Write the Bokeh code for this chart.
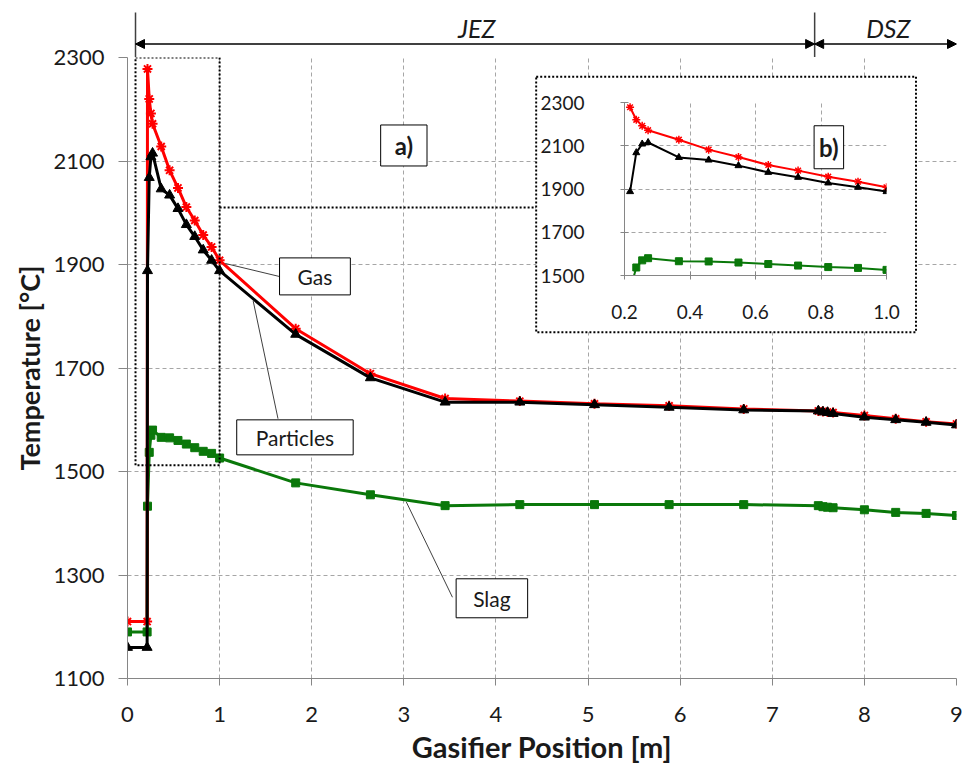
import numpy as np
from bokeh.plotting import figure
from bokeh.models import (Range1d, FixedTicker, PrintfTickFormatter, Label, Arrow,
                          NormalHead, BoxAnnotation)
from bokeh.embed import file_html
from bokeh.resources import INLINE

# ---------------- data ----------------
position = [0.0, 0.213, 0.217, 0.236, 0.254, 0.272, 0.366, 0.457, 0.548, 0.639, 0.730,
            0.822, 0.913, 1.0, 1.826, 2.637, 3.448, 4.259, 5.07, 5.88, 6.69, 7.50,
            7.55, 7.60, 7.66, 8.0, 8.34, 8.67, 9.0]
gas = [1210, 1210, 2278, 2220, 2192, 2172, 2128, 2082, 2048, 2011, 1985,
       1957, 1934, 1908, 1776, 1689, 1641, 1636, 1631, 1627, 1621, 1617,
       1616, 1615, 1614, 1608, 1602, 1596, 1592]
particles = [1160, 1160, 1888, 2068, 2108, 2115, 2046, 2034, 2008, 1977, 1954,
             1928, 1908, 1888, 1765, 1681, 1634, 1634, 1629, 1624, 1619, 1617,
             1615, 1614, 1612, 1605, 1600, 1595, 1590]
slag = [1190, 1190, 1433, 1537, 1570, 1580, 1566, 1565, 1560, 1553, 1546,
        1539, 1535, 1526, 1478, 1455, 1434, 1436, 1436, 1436, 1436, 1434,
        1432, 1431, 1430, 1426, 1421, 1419, 1415]

x_ticks = [0, 1, 2, 3, 4, 5, 6, 7, 8, 9]
y_ticks = [1100, 1300, 1500, 1700, 1900, 2100, 2300]
inset_x_ticks = [0.2, 0.4, 0.6, 0.8, 1.0]
inset_y_ticks = [1500, 1700, 1900, 2100, 2300]

zones = ["JEZ", "DSZ"]
zone_bounds = [0.087, 7.46, 9.0]
zone_label_x = [3.79, 8.26]

FONT = "Lato"
GRID = "#a6a6a6"
AXIS = "#868686"
RED = "#ff0000"
BLACK = "#000000"
GREEN = "#0a780a"
TXT = "#1a1a1a"

W, H = 956, 759
BL, BR, BT, BB = 119, 8, 49, 89

# ---------------- main figure ----------------
p = figure(width=W, height=H, x_range=Range1d(0, 9), y_range=Range1d(1100, 2300),
           output_backend="svg", toolbar_location=None, min_border=0,
           min_border_left=BL, min_border_right=BR, min_border_top=BT, min_border_bottom=BB,
           styles={"position": "absolute", "left": "8px", "top": "8px"})
p.outline_line_color = None

p.xaxis.ticker = FixedTicker(ticks=x_ticks)
p.yaxis.ticker = FixedTicker(ticks=y_ticks)
for ax in (p.xaxis[0], p.yaxis[0]):
    ax.axis_line_color = AXIS
    ax.major_tick_line_color = AXIS
    ax.minor_tick_line_color = None
    ax.major_label_text_font = FONT
    ax.major_label_text_font_size = "22px"
    ax.major_label_text_color = TXT
    ax.axis_label_text_font = FONT
    ax.axis_label_text_font_style = "bold"
    ax.axis_label_text_color = TXT
p.xaxis.axis_label_text_font_size = "29px"
p.yaxis.axis_label_text_font_size = "27px"
p.xaxis.major_tick_out = 7
p.xaxis.major_tick_in = 0
p.xaxis.major_label_standoff = 21
p.xaxis.axis_label = "Gasifier Position [m]"
p.xaxis.axis_label_standoff = 4
p.yaxis.major_tick_out = 9
p.yaxis.major_tick_in = 0
p.yaxis.major_label_standoff = 14
p.yaxis.axis_label = "Temperature [°C]"
p.yaxis.axis_label_standoff = 4

p.xgrid.grid_line_color = GRID
p.xgrid.grid_line_dash = "4 3"
p.ygrid.grid_line_color = GRID
p.ygrid.grid_line_dash = "4 3"

# zoom box (a) and connector
p.add_layout(BoxAnnotation(left=0.087, right=1.0, bottom=1512, top=2300, fill_alpha=0,
                           line_color="black", line_alpha=1, line_width=2, line_dash="2 2"))
p.segment(x0=[1.0], y0=[2010], x1=[4.437], y1=[2010], line_color="black",
          line_width=2, line_dash="2 2")
# inset frame
p.add_layout(BoxAnnotation(left=4.437, right=8.56, bottom=1769, top=2263,
                           fill_color="white", fill_alpha=1,
                           line_color="black", line_alpha=1, line_width=2, line_dash="2 2"))

# series
p.line(position, slag, line_color=GREEN, line_width=3)
p.scatter(position, slag, marker="square", size=8, fill_color=GREEN, line_color=GREEN)
p.line(position, gas, line_color=RED, line_width=3)
p.scatter(position, gas, marker="asterisk", size=10, line_color=RED, line_width=2)
p.line(position, particles, line_color=BLACK, line_width=3)
p.scatter(position, particles, marker="triangle", size=10, fill_color=BLACK, line_color=BLACK)

# leader lines
p.segment(x0=[1.061, 1.364, 3.027], y0=[1902, 1830, 1441],
          x1=[1.645, 1.634, 3.528], y1=[1877, 1602, 1257],
          line_color="#404040", line_width=1)

def boxed(fig, x, y, text, bold=False, size="21px", pad=(17, 6)):
    fig.add_layout(Label(x=x, y=y, text=text, text_align="center", text_baseline="middle",
                         text_font=FONT, text_font_size=size,
                         text_font_style="bold" if bold else "normal",
                         text_color=TXT,
                         background_fill_color="white", border_line_color="black",
                         border_line_width=1, padding=pad))

boxed(p, 2.035, 1877, "Gas", pad=(18, 6))
boxed(p, 1.818, 1566, "Particles", pad=(19, 5))
boxed(p, 3.956, 1255, "Slag", pad=(17, 7))
boxed(p, 3.0, 2130, "a)", bold=True, size="24px", pad=(14, 6))

# ---------------- zone strip above the plot ----------------
top = figure(width=W, height=BT, x_range=Range1d(0, 9), y_range=Range1d(0, BT),
             output_backend="svg", toolbar_location=None, x_axis_type=None, y_axis_type=None,
             min_border=0, min_border_left=BL, min_border_right=BR,
             min_border_top=0, min_border_bottom=0,
             styles={"position": "absolute", "left": "8px", "top": "8px"})
top.outline_line_color = None
top.background_fill_alpha = 0
top.border_fill_alpha = 0
top.xgrid.visible = False
top.ygrid.visible = False
for xb in zone_bounds[:2]:
    top.add_layout(Arrow(end=None, x_start=xb, y_start=0, x_end=xb, y_end=45,
                         line_color="#404040", line_width=1.5))
for i, z in enumerate(zones):
    top.add_layout(Arrow(start=NormalHead(size=9, fill_color="black", line_color="black"),
                         end=NormalHead(size=9, fill_color="black", line_color="black"),
                         x_start=zone_bounds[i], y_start=13.5,
                         x_end=zone_bounds[i + 1], y_end=13.5,
                         line_color="black", line_width=1.5))
    top.add_layout(Label(x=zone_label_x[i], y=30, text=z, text_align="center",
                         text_baseline="middle", text_font=FONT, text_font_size="25px",
                         text_font_style="italic", text_color=TXT))

# ---------------- inset figure ----------------
ins = figure(width=377, height=250, x_range=Range1d(0.2, 1.0), y_range=Range1d(1500, 2300),
             output_backend="svg", toolbar_location=None, min_border=0,
             min_border_left=87, min_border_right=28, min_border_top=23, min_border_bottom=54,
             styles={"position": "absolute", "left": "537px", "top": "79px"})
ins.outline_line_color = None
ins.border_fill_color = "white"
ins.xaxis.ticker = FixedTicker(ticks=inset_x_ticks)
ins.xaxis.formatter = PrintfTickFormatter(format="%.1f")
ins.yaxis.ticker = FixedTicker(ticks=inset_y_ticks)
for ax in (ins.xaxis[0], ins.yaxis[0]):
    ax.axis_line_color = AXIS
    ax.major_tick_line_color = AXIS
    ax.minor_tick_line_color = None
    ax.major_tick_in = 4
    ax.major_tick_out = 4
    ax.major_label_text_font = FONT
    ax.major_label_text_font_size = "19px"
    ax.major_label_text_color = TXT
ins.xaxis.major_label_standoff = 25
ins.yaxis.major_label_standoff = 36
ins.xgrid.grid_line_color = GRID
ins.xgrid.grid_line_dash = "4 3"
ins.ygrid.grid_line_color = GRID
ins.ygrid.grid_line_dash = "4 3"

pos = np.array(position)
m = (pos >= 0.215) & (pos <= 1.0)
ix = pos[m]
ins.line(ix, np.array(slag)[m], line_color=GREEN, line_width=2)
ins.scatter(ix, np.array(slag)[m], marker="square", size=7, fill_color=GREEN, line_color=GREEN)
ins.line(ix, np.array(gas)[m], line_color=RED, line_width=2)
ins.scatter(ix, np.array(gas)[m], marker="asterisk", size=8, line_color=RED, line_width=1.5)
ins.line(ix, np.array(particles)[m], line_color=BLACK, line_width=2)
ins.scatter(ix, np.array(particles)[m], marker="triangle", size=7, fill_color=BLACK, line_color=BLACK)
boxed(ins, 0.824, 2093, "b)", bold=True, size="24px", pad=(5, 7))

open("out.html", "w").write(file_html([p, ins, top], INLINE))
